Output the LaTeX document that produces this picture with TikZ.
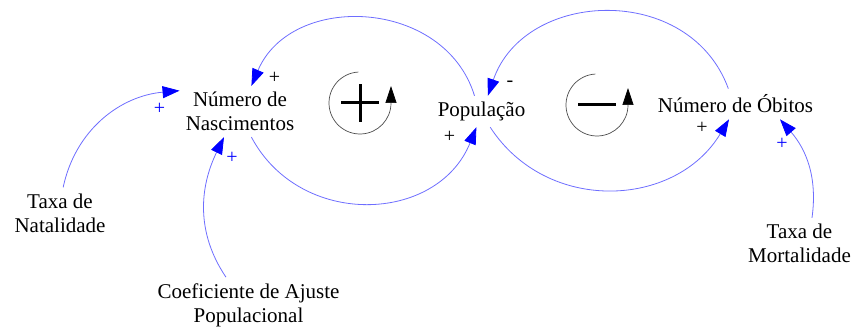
\documentclass[tikz,border=0pt]{standalone}
\usepackage{fontspec}
\setmainfont{Liberation Serif}
\usetikzlibrary{arrows.meta, positioning, calc}
\definecolor{linkblue}{RGB}{110,110,255}
\definecolor{tipblue}{RGB}{0,0,255}
\tikzset{
  var/.style={align=center, inner sep=6pt, font=\fontsize{21}{24}\selectfont},
  link/.style={draw=linkblue, line width=0.8pt, -{Triangle[length=17pt,width=12pt,color=tipblue]}},
  pol/.style={font=\fontsize{20}{20}\selectfont, inner sep=0pt},
  bpol/.style={pol, text=tipblue},
  loopline/.style={draw=black!70, line width=0.7pt, -{Triangle[length=17pt,width=11pt,color=black]}},
  loopsign/.style={line width=3pt}
}
\begin{document}
\begin{tikzpicture}[x=1pt,y=1pt]
\useasboundingbox (0,0) rectangle (855,327);
\node[var] (nasc) at (240,215.5) {Número de\\Nascimentos};
\node[var] (pop) at (481.5,215.5) {População};
\node[var] (obitos) at (735.5,223) {Número de Óbitos};
\node[var] (natal) at (60,114) {Taxa de\\Natalidade};
\node[var] (coef) at (248.5,22) {Coeficiente de Ajuste\\Populacional};
\node[var] (mort) at (799.5,83.5) {Taxa de\\Mortalidade};

\draw[link] (pop.114) to[out=107,in=67,looseness=1.17] node[at end,pol,xshift=23pt,yshift=8pt]{+} (nasc.66);
\draw[link] (nasc.-66) to[out=-62,in=-112,looseness=1.18] node[at end,pol,xshift=-27pt,yshift=-10pt]{+} (pop.252);
\draw[link] (obitos.115) to[out=110,in=71,looseness=1.2] node[at end,pol,xshift=22pt,yshift=12pt]{-} (pop.68);
\draw[link] (pop.299) to[out=-57,in=-121,looseness=1.11] node[at end,pol,xshift=-27pt,yshift=-9pt]{+} (obitos.247);
\draw[link] (natal.83) to[out=78,in=185] node[at end,bpol,xshift=-20pt,yshift=-18pt]{+} (nasc.161);
\draw[link] (coef.129) to[out=124,in=-116] node[at end,bpol,xshift=8pt,yshift=-21pt]{+} (nasc.238);
\draw[link] (mort.64) to[out=82,in=-49] node[at end,bpol,xshift=2pt,yshift=-25pt]{+} (obitos.-19);

\coordinate (rloop) at (360,224);
\coordinate (bloop) at (597,222);
\draw[loopline] ([shift={(93:31)}]rloop) arc[start angle=93,end angle=360,radius=31] -- ++(0,17);
\draw[loopsign] ([xshift=-19pt]rloop) -- ([xshift=19pt]rloop) ([yshift=-19pt]rloop) -- ([yshift=19pt]rloop);
\draw[loopline] ([shift={(93:31)}]bloop) arc[start angle=93,end angle=360,radius=31] -- ++(0,17);
\draw[loopsign] ([xshift=-19pt]bloop) -- ([xshift=19pt]bloop);
\end{tikzpicture}
\end{document}
